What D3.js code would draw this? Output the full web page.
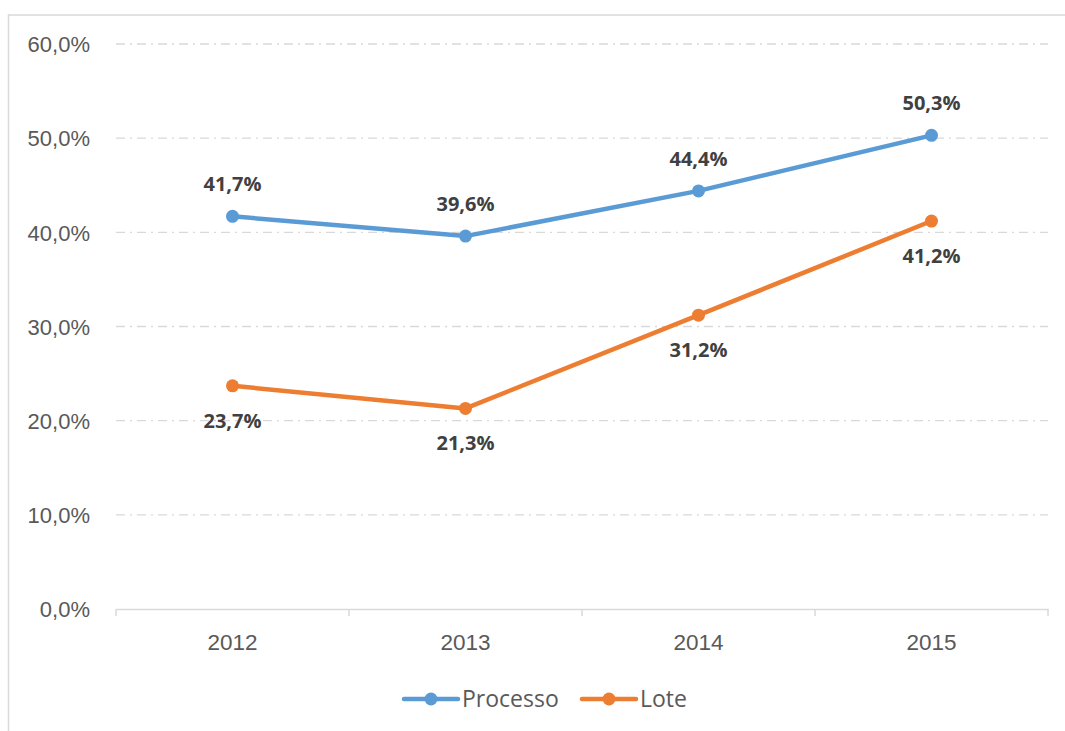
<!DOCTYPE html>
<html>
<head>
<meta charset="utf-8">
<script src="https://cdn.jsdelivr.net/npm/d3@7"></script>
<style>
  html, body { margin: 0; padding: 0; background: #fff; }
  svg { display: block; font-family: "Open Sans", "Noto Sans", sans-serif; }
</style>
</head>
<body>
<svg id="chart" width="1065" height="731"></svg>
<script>
// Share of cases, by year
const years = ["2012", "2013", "2014", "2015"];
const processo = [41.7, 39.6, 44.4, 50.3];
const lote = [23.7, 21.3, 31.2, 41.2];
const yTicks = [0, 10, 20, 30, 40, 50, 60];
// label placement: true = above the point
const processoAbove = [true, true, true, true];
const loteAbove = [false, false, false, false];

const series = [
  { name: "Processo", values: processo, color: "#5B9BD5", above: processoAbove },
  { name: "Lote", values: lote, color: "#ED7D31", above: loteAbove }
];

const svg = d3.select("#chart");
const W = 1065, H = 731;
const plot = { left: 116, right: 1048, top: 44, bottom: 609 };

const fmt = v => d3.format(".1f")(v).replace(".", ",") + "%";

// chart frame
svg.append("rect")
  .attr("x", 8.5).attr("y", 15)
  .attr("width", W + 10).attr("height", H + 10)
  .attr("fill", "#fff").attr("stroke", "#d9d9d9").attr("stroke-width", 1.5);

const x = d3.scaleBand().domain(years).range([plot.left, plot.right]).padding(0);
const y = d3.scaleLinear().domain([0, 60]).range([plot.bottom, plot.top]);

// gridlines
svg.append("g")
  .selectAll("line")
  .data(yTicks.filter(t => t > 0))
  .join("line")
  .attr("x1", plot.left).attr("x2", plot.right)
  .attr("y1", d => y(d)).attr("y2", d => y(d))
  .attr("stroke", "#d9d9d9").attr("stroke-width", 1.3)
  .attr("stroke-dasharray", "9,5,2,5");

// y axis labels
const yAxis = d3.axisLeft(y).tickValues(yTicks).tickFormat(fmt).tickSize(0).tickPadding(26);
const gy = svg.append("g").attr("transform", `translate(${plot.left},0)`).call(yAxis);
gy.select(".domain").remove();
gy.selectAll("text")
  .attr("fill", "#595959").attr("font-size", 22).attr("dy", "0.35em");

// x axis
const xAxis = d3.axisBottom(x).tickSize(0).tickPadding(25);
const gx = svg.append("g").attr("transform", `translate(0,${plot.bottom})`).call(xAxis);
gx.select(".domain").attr("stroke", "#d9d9d9").attr("stroke-width", 1.5);
gx.selectAll("text").attr("fill", "#595959").attr("font-size", 22.5);
// category boundary ticks
gx.append("g").selectAll("line")
  .data(years.map(d => x(d)).concat([x(years[years.length - 1]) + x.bandwidth()]))
  .join("line")
  .attr("x1", d => d).attr("x2", d => d)
  .attr("y1", 0).attr("y2", 7)
  .attr("stroke", "#d9d9d9").attr("stroke-width", 1.5);

const cx = d => x(d) + x.bandwidth() / 2;

const line = d3.line()
  .x((v, i) => cx(years[i]))
  .y(v => y(v));

series.forEach(s => {
  const g = svg.append("g");
  g.append("path")
    .datum(s.values)
    .attr("d", line)
    .attr("fill", "none")
    .attr("stroke", s.color)
    .attr("stroke-width", 4.5)
    .attr("stroke-linejoin", "round")
    .attr("stroke-linecap", "round");
  g.selectAll("circle")
    .data(s.values)
    .join("circle")
    .attr("cx", (v, i) => cx(years[i]))
    .attr("cy", v => y(v))
    .attr("r", 6.5)
    .attr("fill", s.color);
  g.selectAll("text")
    .data(s.values)
    .join("text")
    .attr("x", (v, i) => cx(years[i]))
    .attr("y", (v, i) => y(v) + (s.above[i] ? -32 : 35))
    .attr("dy", "0.35em")
    .attr("text-anchor", "middle")
    .attr("font-size", 20)
    .attr("font-weight", "bold")
    .attr("fill", "#404040")
    .text(v => fmt(v));
});

// legend
const legend = [
  { name: "Processo", color: "#5B9BD5", x: 404 },
  { name: "Lote", color: "#ED7D31", x: 582 }
];
const ly = 699;
legend.forEach(l => {
  const g = svg.append("g");
  g.append("line")
    .attr("x1", l.x).attr("x2", l.x + 54)
    .attr("y1", ly).attr("y2", ly)
    .attr("stroke", l.color).attr("stroke-width", 4.5).attr("stroke-linecap", "round");
  g.append("circle").attr("cx", l.x + 27).attr("cy", ly).attr("r", 6.5).attr("fill", l.color);
  g.append("text")
    .attr("x", l.x + 58).attr("y", ly).attr("dy", "0.35em")
    .attr("font-size", 23).attr("fill", "#595959")
    .text(l.name);
});
</script>
</body>
</html>
